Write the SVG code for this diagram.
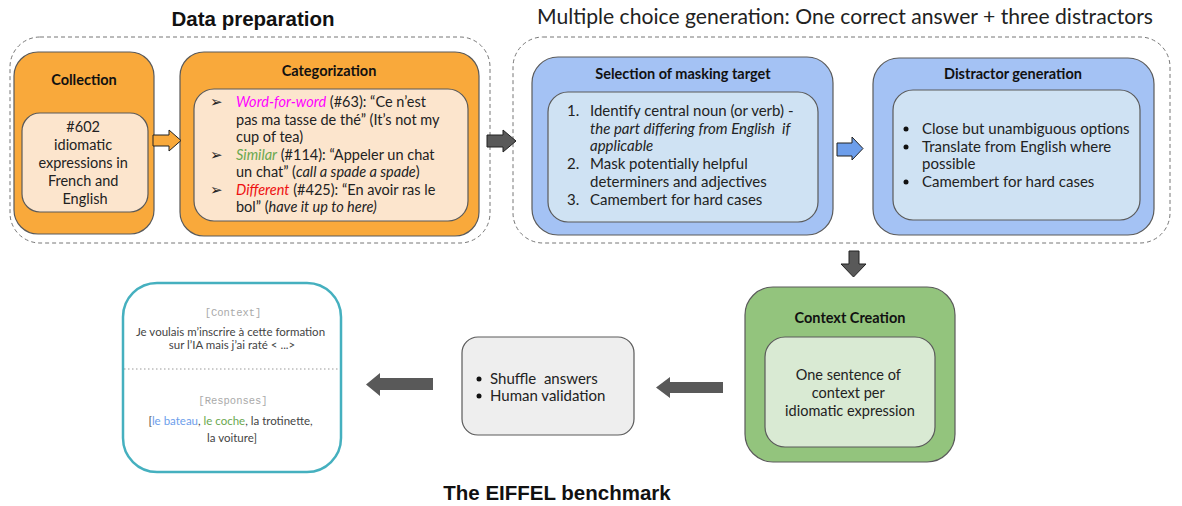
<svg xmlns="http://www.w3.org/2000/svg" width="1182" height="506" viewBox="0 0 1182 506">
<style>
.title{font-family:"Liberation Sans",Arial,sans-serif;font-weight:bold;font-size:20.5px;fill:#111}
.lato{font-family:Lato,"Noto Sans",sans-serif;fill:#222}
.hdr{font-family:Lato,"Noto Sans",sans-serif;font-weight:bold;font-size:14.5px;fill:#111}
.body{font-family:Lato,"Noto Sans",sans-serif;font-size:14.5px;fill:#222}
.b15{font-size:15px}
.mono{font-family:"Liberation Mono","DejaVu Sans Mono",monospace;font-size:10.5px;fill:#aaa}
.card{font-family:Lato,"Noto Sans",sans-serif;font-size:11.5px;fill:#444}
.dash{fill:none;stroke:#777;stroke-width:1;stroke-dasharray:4 3}
.box{stroke:#5a5a5a;stroke-width:1.2}
.arrow{stroke:#222;stroke-width:1}
</style>
<rect width="1182" height="506" fill="#ffffff"/>

<g id="titles">
<text class="title" x="253" y="26" text-anchor="middle">Data preparation</text>
<text class="lato" x="537" y="24" font-size="21" textLength="616" lengthAdjust="spacingAndGlyphs">Multiple choice generation: One correct answer + three distractors</text>
<text class="title" x="557" y="500" text-anchor="middle">The EIFFEL benchmark</text>
</g>

<g id="containers">
<rect class="dash" x="10" y="37" width="480" height="206" rx="30"/>
<rect class="dash" x="513" y="37" width="657" height="206" rx="30"/>
</g>

<g id="collection">
<rect class="box" x="14" y="52" width="140" height="182" rx="24" fill="#f9a93b"/>
<text class="hdr" x="84" y="85" text-anchor="middle">Collection</text>
<rect class="box" x="22" y="113" width="126" height="99" rx="18" fill="#fce5cd"/>
<text class="body" text-anchor="middle">
<tspan x="85" y="132">#602</tspan>
<tspan x="85" y="150">idiomatic</tspan>
<tspan x="85" y="168">expressions in</tspan>
<tspan x="85" y="186">French and</tspan>
<tspan x="85" y="204">English</tspan>
</text>
</g>

<g id="categorization">
<rect class="box" x="180" y="52" width="299" height="184" rx="24" fill="#f9a93b"/>
<text class="hdr" x="329" y="76" text-anchor="middle">Categorization</text>
<rect class="box" x="194" y="89" width="274" height="132" rx="20" fill="#fce5cd"/>
<g class="body">
<text x="210" y="107">➢</text>
<text x="236" y="107"><tspan fill="#ff00ff" font-style="italic">Word-for-word</tspan> (#63): “Ce n’est</text>
<text x="236" y="124.5">pas ma tasse de thé” (It’s not my</text>
<text x="236" y="142">cup of tea)</text>
<text x="210" y="159.5">➢</text>
<text x="236" y="159.5"><tspan fill="#6aa84f" font-style="italic">Similar</tspan> (#114): “Appeler un chat</text>
<text x="236" y="177">un chat” (<tspan font-style="italic">call a spade a spade</tspan>)</text>
<text x="210" y="194.5">➢</text>
<text x="236" y="194.5"><tspan fill="#ee1111" font-style="italic">Different</tspan> (#425): “En avoir ras le</text>
<text x="236" y="212">bol” (<tspan font-style="italic">have it up to here)</tspan></text>
</g>
</g>

<g id="selection">
<rect class="box" x="532" y="57" width="301" height="178" rx="26" fill="#a4c2f4"/>
<text class="hdr" x="683" y="79" text-anchor="middle">Selection of masking target</text>
<rect class="box" x="548" y="92" width="270" height="130" rx="20" fill="#cfe2f3"/>
<g class="body b15">
<text x="567" y="116">1.</text>
<text x="590" y="116">Identify central noun (or verb) -</text>
<text x="590" y="134" font-style="italic" xml:space="preserve">the part differing from English  if</text>
<text x="590" y="151" font-style="italic">applicable</text>
<text x="567" y="169">2.</text>
<text x="590" y="169">Mask potentially helpful</text>
<text x="590" y="187">determiners and adjectives</text>
<text x="567" y="205">3.</text>
<text x="590" y="205">Camembert for hard cases</text>
</g>
</g>

<g id="distractor">
<rect class="box" x="873" y="58" width="281" height="177" rx="26" fill="#a4c2f4"/>
<text class="hdr" x="1013" y="79" text-anchor="middle">Distractor generation</text>
<rect class="box" x="893" y="90" width="247" height="130" rx="20" fill="#cfe2f3"/>
<g class="body b15">
<circle cx="906" cy="129" r="2.5" fill="#111"/>
<text x="922" y="134">Close but unambiguous options</text>
<circle cx="906" cy="147" r="2.5" fill="#111"/>
<text x="922" y="152">Translate from English where</text>
<text x="922" y="169">possible</text>
<circle cx="906" cy="182" r="2.5" fill="#111"/>
<text x="922" y="187">Camembert for hard cases</text>
</g>
</g>

<g id="context-creation">
<rect class="box" x="745" y="287" width="210" height="175" rx="28" fill="#93c47d"/>
<text class="hdr" x="850" y="323" text-anchor="middle">Context Creation</text>
<rect class="box" x="765" y="337" width="170" height="110" rx="20" fill="#d9ead3"/>
<text class="body" text-anchor="middle">
<tspan x="850" y="380">One sentence of</tspan>
<tspan x="850" y="398">context per</tspan>
<tspan x="850" y="416">idiomatic expression</tspan>
</text>
</g>

<g id="shuffle">
<rect class="box" x="462" y="337" width="172" height="98" rx="16" fill="#eeeeee"/>
<g class="body b15">
<circle cx="479" cy="379" r="2.5" fill="#111"/>
<text x="490" y="384" xml:space="preserve">Shuffle  answers</text>
<circle cx="479" cy="396" r="2.5" fill="#111"/>
<text x="490" y="401">Human validation</text>
</g>
</g>

<g id="eiffel-card">
<rect x="123" y="283" width="218" height="189" rx="34" fill="#ffffff" stroke="#45b0bf" stroke-width="2.5"/>
<text class="mono" x="233" y="316" text-anchor="middle">[Context]</text>
<text class="card" text-anchor="middle">
<tspan x="232" y="336">Je voulais m’inscrire à cette formation</tspan>
<tspan x="232" y="349">sur l’IA mais j’ai raté &lt; ...&gt;</tspan>
</text>
<line x1="124" y1="369" x2="340" y2="369" stroke="#999" stroke-width="1" stroke-dasharray="1.5 2.5"/>
<text class="mono" x="233" y="404" text-anchor="middle">[Responses]</text>
<text class="card" text-anchor="middle">
<tspan x="232" y="425">[<tspan fill="#6d9eeb">le bateau</tspan>, <tspan fill="#6aa84f">le coche</tspan>, la trotinette,</tspan>
<tspan x="232" y="442">la voiture]</tspan>
</text>
</g>

<g id="connectors">
<path class="arrow" d="M153,135 H169 V130 L181,140.5 L169,151 V146 H153 Z" fill="#f9a93b"/>
<path class="arrow" d="M487,135 H503 V130 L516,141 L503,152 V147 H487 Z" fill="#595959"/>
<path class="arrow" d="M837,143 H852 V137 L863,148.5 L852,160 V156 H837 Z" fill="#6d9eeb"/>
<path class="arrow" d="M849,251 H859 V264 H866 L853.5,277 L841,264 H849 Z" fill="#595959"/>
<path d="M723,382 H670 V377 L656,387.5 L670,398 V393 H723 Z" fill="#595959"/>
<path d="M433,378 H380 V373 L366,384.5 L380,396 V390 H433 Z" fill="#595959"/>
</g>
</svg>
